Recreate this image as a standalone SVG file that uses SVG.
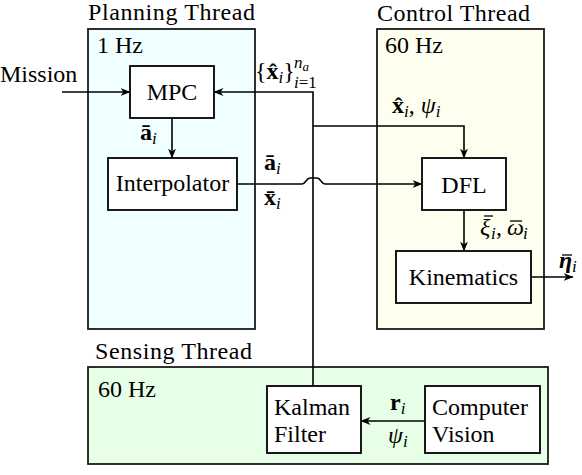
<svg xmlns="http://www.w3.org/2000/svg" width="582" height="475" viewBox="0 0 582 475" font-family="'Liberation Serif', 'Times New Roman', serif">
<style>
text{font-family:"Liberation Serif","Times New Roman",serif;font-size:24px;fill:#000}
.sub{font-size:17px;font-style:italic}
.b{font-weight:bold}
.it{font-style:italic}
.thread{stroke:#1a1a1a;stroke-width:1.8}
.node{fill:#fff;stroke:#000;stroke-width:1.8}
.wire{fill:none;stroke:#000;stroke-width:1.6}
.bar{stroke:#000;stroke-width:1.3}
</style>
<defs>
<marker id="ah" viewBox="0 0 10 8" refX="9.5" refY="4" markerWidth="10" markerHeight="8" markerUnits="userSpaceOnUse" orient="auto">
<path d="M0,0 L10,4 L0,8 L3,4 z" fill="#000"/>
</marker>
</defs>

<g id="planning-thread">
<rect class="thread" x="88" y="29" width="167" height="300" fill="#f0ffff"/>
<text x="88" y="20" textLength="167">Planning Thread</text>
<text x="97" y="53">1 Hz</text>
</g>
<g id="control-thread">
<rect class="thread" x="377" y="29" width="167" height="300" fill="#fffff0"/>
<text x="377" y="21" textLength="153">Control Thread</text>
<text x="385" y="53">60 Hz</text>
</g>
<g id="sensing-thread">
<rect class="thread" x="88" y="367" width="460" height="97" fill="#e6ffe6"/>
<text x="95" y="359" textLength="157">Sensing Thread</text>
<text x="98" y="397">60 Hz</text>
</g>

<g id="mission"><text x="0" y="82">Mission</text></g>

<g id="mpc">
<rect class="node" x="130" y="66" width="84" height="52"/>
<text x="172" y="100" text-anchor="middle">MPC</text>
</g>
<g id="interpolator">
<rect class="node" x="108" y="158" width="129" height="52"/>
<text x="172.5" y="191" text-anchor="middle">Interpolator</text>
</g>
<g id="dfl">
<rect class="node" x="422" y="158" width="84" height="52"/>
<text x="464" y="193" text-anchor="middle">DFL</text>
</g>
<g id="kinematics">
<rect class="node" x="396" y="251" width="135" height="52"/>
<text x="463.5" y="285" text-anchor="middle">Kinematics</text>
</g>
<g id="kalman-filter">
<rect class="node" x="267" y="386" width="94" height="67"/>
<text x="274" y="415">Kalman</text>
<text x="274" y="442">Filter</text>
</g>
<g id="computer-vision">
<rect class="node" x="425" y="386" width="115" height="67"/>
<text x="432" y="415">Computer</text>
<text x="432" y="442">Vision</text>
</g>

<g id="connectors">
<path class="wire" d="M62,92 H130" marker-end="url(#ah)"/>
<path class="wire" d="M172,118 V158" marker-end="url(#ah)"/>
<path class="wire" d="M313,386 V92 H214" marker-end="url(#ah)"/>
<path class="wire" d="M313,126 H464 V158" marker-end="url(#ah)"/>
<path class="wire" d="M237,184 H302 C306,184 306,178 310,178 H317 C321,178 321,184 325,184 H422" marker-end="url(#ah)"/>
<path class="wire" d="M464,210 V251" marker-end="url(#ah)"/>
<path class="wire" d="M531,277 H573" marker-end="url(#ah)"/>
<path class="wire" d="M425,421 H361" marker-end="url(#ah)"/>
</g>

<g id="labels">
<text x="140" y="140"><tspan class="b">ā</tspan><tspan class="sub" dy="4">i</tspan></text>
<text x="264" y="170"><tspan class="b">ā</tspan><tspan class="sub" dy="4">i</tspan></text>
<text x="264" y="205"><tspan class="b">x̄</tspan><tspan class="sub" dy="4">i</tspan></text>
<text x="255" y="79">{<tspan class="b">x̂</tspan><tspan class="sub" dy="4">i</tspan><tspan dy="-4">}</tspan></text>
<text x="294" y="68" class="sub">n<tspan font-size="13" dy="3">a</tspan></text>
<text x="294" y="88" class="sub">i<tspan font-style="normal">=1</tspan></text>
<text x="392" y="113"><tspan class="b">x̂</tspan><tspan class="sub" dy="4">i</tspan><tspan dy="-4">, </tspan><tspan class="it">ψ</tspan><tspan class="sub" dy="4">i</tspan></text>
<text y="235"><tspan class="it" x="480">ξ</tspan><tspan class="sub" x="491" y="239">i</tspan><tspan x="496" y="235">,</tspan><tspan class="it" x="507">ω</tspan><tspan class="sub" x="523" y="239">i</tspan></text>
<line class="bar" x1="484" y1="216" x2="493" y2="216"/>
<line class="bar" x1="510" y1="221" x2="522" y2="221"/>
<text y="268"><tspan class="b it" x="559">η</tspan><tspan class="sub" x="572" y="272">i</tspan></text>
<line class="bar" x1="562" y1="255" x2="572" y2="255"/>
<text x="390" y="410"><tspan class="b">r</tspan><tspan class="sub" dy="4">i</tspan></text>
<text x="388" y="443"><tspan class="it">ψ</tspan><tspan class="sub" dy="4">i</tspan></text>
</g>
</svg>
